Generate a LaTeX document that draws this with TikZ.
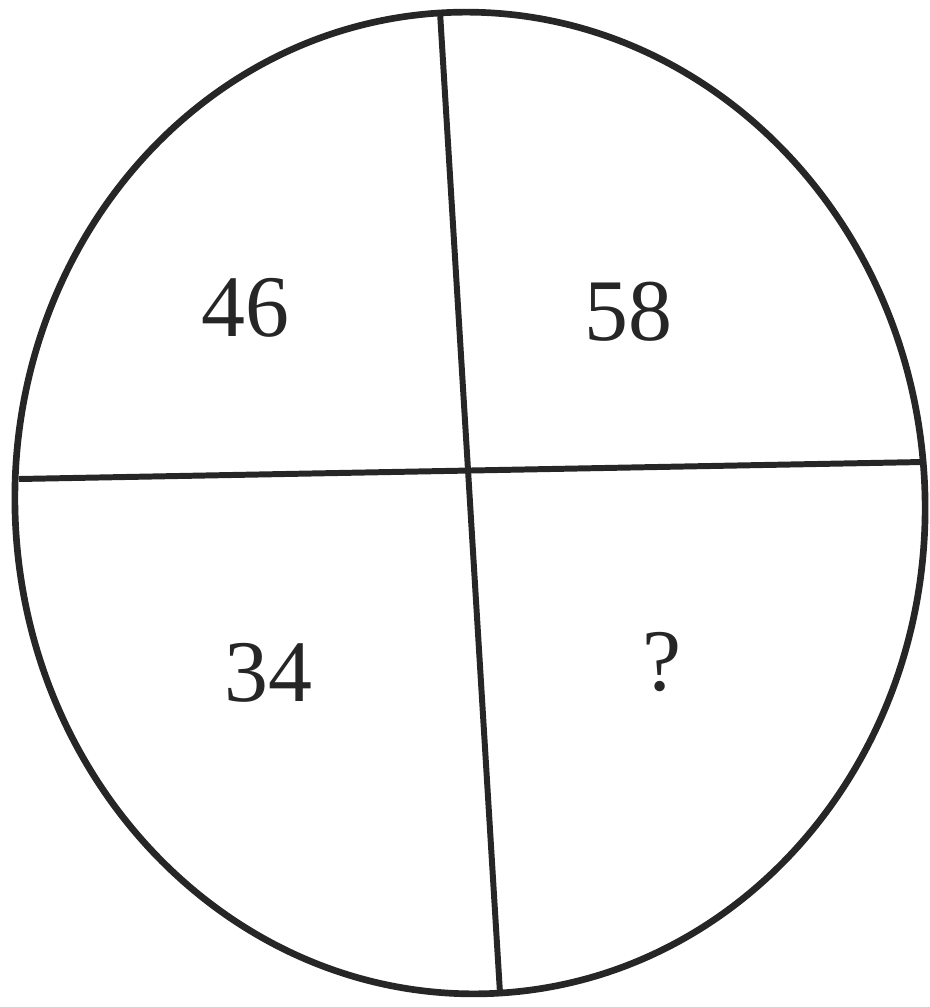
\documentclass[tikz,border=0pt]{standalone}
\usepackage{fontspec}
\setmainfont{Liberation Serif}
\usepackage{tikz}
\usetikzlibrary{positioning}

\begin{document}
\begin{tikzpicture}[
  num/.style={font=\fontsize{25}{29}\selectfont, text=black!85, inner sep=0pt},
  rim/.style={line width=1.9pt, draw=black!85},
  cut/.style={line width=1.7pt, draw=black!85}
]
  \useasboundingbox (0,0) rectangle (9.30,-10.07);

  % outer circle
  \draw[rim] (4.70,-5.03) ellipse[x radius=4.55, y radius=4.91, rotate=3.5];

  % ends of the dividing lines
  \coordinate (top) at (4.40,-0.12);
  \coordinate (bot) at (5.00,-9.93);
  \coordinate (lft) at (0.19,-4.79);
  \coordinate (rgt) at (9.23,-4.62);

  \draw[cut] (top) -- (bot);
  \draw[cut] (lft) -- (rgt);

  % numbers
  \node[num] (nw) at (2.45,-3.08) {46};
  \node[num] (ne) at (6.28,-3.12) {58};
  \node[num] (sw) at (2.68,-6.73) {34};
  \node[num] (se) at (6.62,-6.62) {?};
\end{tikzpicture}
\end{document}
